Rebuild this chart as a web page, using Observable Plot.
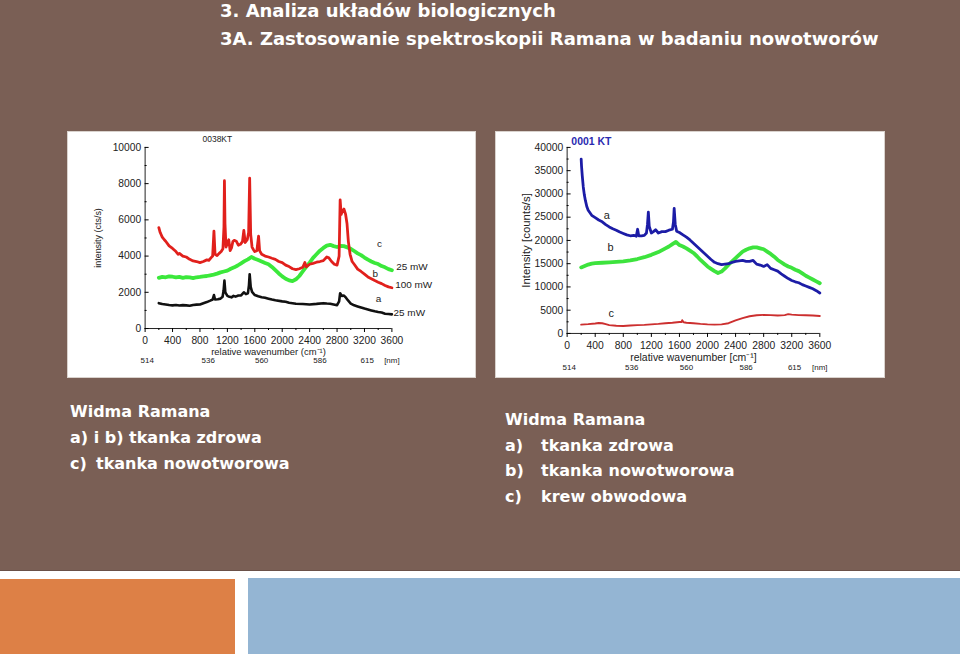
<!DOCTYPE html>
<html><head><meta charset="utf-8">
<script src="https://cdn.jsdelivr.net/npm/d3@7"></script>
<script src="https://cdn.jsdelivr.net/npm/@observablehq/plot@0.6"></script>
<style>
body{margin:0;background:#fff;}
#slide{position:relative;width:960px;height:656px;overflow:hidden;background:#fff;font-family:"DejaVu Sans",sans-serif;}
.abs{position:absolute;}
.t{position:absolute;color:#fff;font-weight:bold;white-space:nowrap;line-height:20px;}
.panel{position:absolute;background:#fff;box-sizing:border-box;border:1px solid #d9d2cd;}
.panel svg{position:absolute;left:-1px;top:-1px;}
.lab{display:inline-block;width:36px;}
</style></head>
<body>
<div id="slide">
  <div class="abs" style="left:0;top:0;width:960px;height:570px;background:#7a5f55;border-bottom:1px solid #6a5048"></div>
  <div class="t" style="left:220px;top:1px;font-size:18px;">3. Analiza układów biologicznych</div>
  <div class="t" style="left:220px;top:29px;font-size:18px;">3A. Zastosowanie spektroskopii Ramana w badaniu nowotworów</div>
  <div class="panel" id="p1" style="left:67px;top:131px;width:409px;height:247px;"></div>
  <div class="panel" id="p2" style="left:495px;top:131px;width:390px;height:247px;"></div>
  <div class="t" style="left:70px;top:402px;font-size:16px;">Widma Ramana</div>
  <div class="t" style="left:70px;top:428px;font-size:16px;">a) i b) tkanka zdrowa</div>
  <div class="t" style="left:70px;top:454px;font-size:16px;"><span style="display:inline-block;width:26px">c)</span>tkanka nowotworowa</div>
  <div class="t" style="left:505px;top:410px;font-size:16px;">Widma Ramana</div>
  <div class="t" style="left:505px;top:436px;font-size:16px;"><span class="lab">a)</span>tkanka zdrowa</div>
  <div class="t" style="left:505px;top:461px;font-size:16px;"><span class="lab">b)</span>tkanka nowotworowa</div>
  <div class="t" style="left:505px;top:487px;font-size:16px;"><span class="lab">c)</span>krew obwodowa</div>
  <div class="abs" style="left:0;top:579px;width:235px;height:75px;background:#dd8046;"></div>
  <div class="abs" style="left:248px;top:578px;width:712px;height:76px;background:#94b5d3;"></div>
</div>
<script>
// ---------- shared axis values ----------
const xTicks = [0, 400, 800, 1200, 1600, 2000, 2400, 2800, 3200, 3600];
const xMinor = [200, 600, 1000, 1400, 1800, 2200, 2600, 3000, 3400];
const nmPos = [30, 920, 1700, 2550, 3240, 3600];
const nmLabels = ["514", "536", "560", "586", "615", "[nm]"];

// ---------- Chart 1 (0038KT) ----------
const y1Ticks = [0, 2000, 4000, 6000, 8000, 10000];
const y1Minor = [1000, 3000, 5000, 7000, 9000];
const chart1_b = [[200,5570],[220,5300],[250,5050],[280,4900],[300,4820],[350,4560],[400,4420],[450,4250],[480,4100],[500,4150],[550,4000],[600,3950],[650,3820],[700,3730],[750,3700],[800,3640],[850,3700],[900,3790],[930,3760],[960,3900],[985,4000],[1004,5380],[1020,4100],[1050,4030],[1080,4150],[1110,4250],[1135,4400],[1150,5600],[1157,8160],[1165,5800],[1180,4500],[1200,4700],[1220,4900],[1240,4300],[1260,4450],[1280,4800],[1300,4870],[1330,4820],[1360,4600],[1390,4650],[1420,4800],[1440,5420],[1460,4750],[1490,4900],[1510,5300],[1525,8300],[1540,5200],[1560,4500],[1580,4350],[1600,4250],[1630,4300],[1655,5100],[1670,4300],[1700,4100],[1750,4000],[1800,3950],[1850,3880],[1900,3820],[1950,3700],[2000,3640],[2050,3500],[2100,3420],[2150,3300],[2200,3250],[2250,3300],[2300,3380],[2330,3650],[2350,3400],[2400,3550],[2450,3600],[2500,3660],[2550,3700],[2600,3750],[2650,3950],[2680,3900],[2720,3700],[2760,3550],[2800,3500],[2830,4000],[2845,7100],[2860,6300],[2880,6500],[2900,6600],[2925,6300],[2945,5800],[2965,4800],[2990,4100],[3020,3700],[3050,3550],[3100,3280],[3150,3150],[3200,3000],[3250,2850],[3300,2750],[3350,2650],[3400,2560],[3450,2480],[3500,2380],[3550,2300],[3600,2250]];
const chart1_c = [[200,2800],[250,2850],[300,2830],[350,2880],[400,2860],[450,2820],[500,2850],[550,2800],[600,2840],[650,2820],[700,2780],[750,2830],[800,2850],[850,2880],[900,2900],[950,2940],[1000,2980],[1050,3030],[1100,3100],[1150,3150],[1200,3200],[1250,3300],[1300,3380],[1350,3480],[1400,3600],[1450,3720],[1500,3820],[1550,3950],[1600,3850],[1650,3780],[1700,3700],[1750,3620],[1800,3550],[1850,3400],[1900,3220],[1950,3040],[2000,2880],[2050,2750],[2100,2660],[2150,2620],[2200,2720],[2250,2900],[2300,3150],[2350,3400],[2400,3640],[2450,3900],[2500,4100],[2550,4300],[2600,4450],[2650,4580],[2700,4620],[2750,4550],[2800,4500],[2850,4560],[2900,4550],[2950,4480],[3000,4400],[3050,4280],[3100,4150],[3150,4050],[3200,3920],[3250,3800],[3300,3700],[3350,3620],[3400,3560],[3450,3450],[3500,3380],[3550,3280],[3600,3220]];
const chart1_a = [[200,1400],[250,1350],[300,1330],[350,1300],[400,1280],[450,1300],[500,1270],[550,1290],[600,1280],[650,1260],[700,1300],[750,1320],[800,1330],[850,1400],[900,1460],[950,1540],[985,1600],[1004,1850],[1020,1600],[1060,1620],[1100,1650],[1130,1750],[1145,2100],[1157,2650],[1170,2000],[1200,1800],[1230,1750],[1260,1720],[1290,1800],[1320,1760],[1360,1820],[1400,1830],[1440,2000],[1470,1900],[1500,1950],[1515,2400],[1525,3000],[1540,2300],[1560,2020],[1600,1850],[1650,1780],[1700,1730],[1750,1700],[1800,1650],[1850,1600],[1900,1560],[2000,1500],[2050,1480],[2100,1420],[2150,1400],[2200,1370],[2300,1350],[2400,1330],[2500,1360],[2600,1400],[2650,1380],[2700,1370],[2750,1330],[2800,1290],[2830,1500],[2845,1950],[2870,1800],[2900,1820],[2930,1700],[2960,1550],[3000,1380],[3050,1280],[3100,1220],[3150,1160],[3200,1100],[3250,1050],[3300,1000],[3350,950],[3400,910],[3450,880],[3500,820],[3550,800],[3600,780]];
const chart1_letters = [
  {x: 3420, y: 4650, t: "c"},
  {x: 3357, y: 3010, t: "b"},
  {x: 3406, y: 1640, t: "a"}
];
const chart1_power = [
  {x: 3663, y: 3410, t: "25 mW"},
  {x: 3648, y: 2410, t: "100 mW"},
  {x: 3624, y: 860, t: "25 mW"}
];
const chart1_title = [{x: 838, y: 10450, t: "0038KT"}];

// ---------- Chart 2 (0001 KT) ----------
const y2Ticks = [0, 5000, 10000, 15000, 20000, 25000, 30000, 35000, 40000];
const y2Minor = [2500, 7500, 12500, 17500, 22500, 27500, 32500, 37500];
const chart2_a = [[200,37500],[205,36000],[215,34000],[230,31500],[245,29800],[260,28600],[280,27300],[300,26500],[350,25400],[400,24900],[450,24400],[500,24000],[550,23400],[600,22900],[650,22500],[700,22200],[750,21800],[800,21500],[850,21200],[900,21000],[950,21100],[985,20900],[1004,22400],[1020,21000],[1060,21000],[1100,21100],[1130,21600],[1145,23500],[1157,26100],[1170,23000],[1200,21600],[1230,21900],[1260,22300],[1300,21600],[1350,21900],[1400,21900],[1450,22200],[1500,22400],[1515,24000],[1525,26900],[1540,23500],[1560,22000],[1600,21700],[1650,21200],[1700,20700],[1750,20100],[1800,19400],[1850,18700],[1900,18000],[1950,17300],[2000,16600],[2050,15900],[2100,15300],[2150,15000],[2200,14800],[2250,14900],[2300,15000],[2350,15300],[2400,15500],[2450,15600],[2500,15700],[2550,15500],[2600,15500],[2650,15700],[2700,14900],[2750,14700],[2800,14400],[2850,14800],[2900,14000],[2950,13700],[3000,13400],[3050,12800],[3100,12300],[3150,11800],[3200,11400],[3250,11100],[3300,10900],[3350,10500],[3400,10200],[3450,9900],[3500,9600],[3550,9200],[3600,8700]];
const chart2_b = [[200,14200],[250,14500],[300,14800],[350,15000],[400,15100],[500,15200],[600,15300],[700,15400],[800,15500],[900,15700],[1000,16000],[1100,16400],[1200,16900],[1300,17500],[1400,18300],[1450,18700],[1500,19200],[1550,19700],[1600,19000],[1650,18700],[1700,18300],[1750,17800],[1800,17300],[1850,16600],[1900,15800],[1950,15100],[2000,14400],[2050,13900],[2100,13400],[2150,13000],[2200,13300],[2250,14000],[2300,14800],[2350,15500],[2400,16200],[2450,16900],[2500,17600],[2550,18000],[2600,18300],[2650,18500],[2700,18500],[2750,18300],[2800,18100],[2850,17600],[2900,17100],[2950,16500],[3000,15800],[3050,15300],[3100,14800],[3150,14400],[3200,14100],[3250,13700],[3300,13400],[3350,12900],[3400,12400],[3450,12000],[3500,11600],[3550,11200],[3600,10800]];
const chart2_c = [[200,1900],[300,2000],[400,2150],[450,2250],[500,2200],[550,2000],[600,1800],[700,1650],[800,1600],[900,1700],[1000,1800],[1100,1850],[1200,1950],[1300,2050],[1400,2200],[1500,2300],[1600,2450],[1630,2450],[1640,2850],[1660,2400],[1700,2300],[1800,2200],[1900,2050],[2000,1950],[2100,1900],[2200,1950],[2300,2200],[2400,2800],[2500,3300],[2600,3700],[2700,3900],[2800,4000],[2900,3950],[3000,3850],[3100,3950],[3150,4150],[3200,4050],[3300,3950],[3400,3900],[3500,3850],[3600,3750]];
const chart2_letters = [
  {x: 565, y: 25400, t: "a"},
  {x: 620, y: 18500, t: "b"},
  {x: 630, y: 4300, t: "c"}
];
const chart2_title = [{x: 60, y: 41300, t: "0001 KT"}];

function axes(yTicks, yMinor, o) {
  return [
    Plot.ruleY([0], {stroke: "#222", strokeWidth: 1}),
    Plot.ruleX([0], {stroke: "#222", strokeWidth: 1}),
    Plot.axisX({ticks: xTicks, tickSize: 4, tickPadding: 4, tickFormat: d => String(d), label: null, fontSize: o.tickSize, fill: "#222"}),
    Plot.axisX({ticks: xMinor, tickSize: 2, tickFormat: () => "", label: null}),
    Plot.axisY({ticks: yTicks, tickSize: -4, tickPadding: 8, tickFormat: d => String(d), label: null, fontSize: o.tickSize, fill: "#222"}),
    Plot.axisY({ticks: yMinor, tickSize: -2, tickPadding: 4, tickFormat: () => "", label: null}),
    Plot.text(nmPos, {x: d => d, text: (d, i) => nmLabels[i], frameAnchor: "bottom", lineAnchor: "middle", dy: o.nmDy, fontSize: 8, fill: "#222"}),
    Plot.text([o.xLabel], {frameAnchor: "bottom", lineAnchor: "middle", textAnchor: "middle", dy: o.xlDy, fontSize: o.xlSize, fill: "#222"}),
    Plot.text([o.yLabel], {frameAnchor: "left", lineAnchor: "middle", textAnchor: "middle", dx: o.ylDx, rotate: -90, fontSize: o.ylSize, fill: "#222"})
  ];
}

const line = (data, color, w) => Plot.line(data, {x: d => d[0], y: d => d[1], stroke: color, strokeWidth: w, strokeLinejoin: "round"});

const c1 = Plot.plot({
  width: 409, height: 247,
  marginLeft: 78, marginRight: 83, marginTop: 16, marginBottom: 49,
  style: {fontFamily: "'Liberation Sans', Arial, sans-serif", background: "transparent", overflow: "visible"},
  x: {domain: [0, 3600]},
  y: {domain: [0, 10000]},
  marks: [
    ...axes(y1Ticks, y1Minor, {tickSize: 10.3, nmDy: 32, xlDy: 24, xlSize: 9.5, xLabel: "relative wavenumber (cm⁻¹)", yLabel: "intensity (cts/s)", ylDx: -47, ylSize: 9}),
    line(chart1_c, "#3be83b", 3.8),
    line(chart1_b, "#e1201c", 2.8),
    line(chart1_a, "#111111", 2.6),
    Plot.text(chart1_letters, {x: "x", y: "y", text: "t", fontSize: 10, fill: "#222"}),
    Plot.text(chart1_power, {x: "x", y: "y", text: "t", textAnchor: "start", fontSize: 10, fill: "#222"}),
    Plot.text(chart1_title, {x: "x", y: "y", text: "t", textAnchor: "start", fontSize: 8.5, fill: "#222"})
  ]
});
document.getElementById("p1").appendChild(c1);

const c2 = Plot.plot({
  width: 390, height: 247,
  marginLeft: 72, marginRight: 64, marginTop: 16, marginBottom: 44,
  style: {fontFamily: "'Liberation Sans', Arial, sans-serif", background: "transparent", overflow: "visible"},
  x: {domain: [0, 3600]},
  y: {domain: [0, 40000]},
  marks: [
    ...axes(y2Ticks, y2Minor, {tickSize: 10.4, nmDy: 34, xlDy: 24, xlSize: 10.5, xLabel: "relative wavenumber [cm⁻¹]", yLabel: "Intensity [counts/s]", ylDx: -41, ylSize: 11.5}),
    line(chart2_c, "#cc2f2f", 1.9),
    line(chart2_b, "#3de33d", 3.8),
    line(chart2_a, "#1c1ca6", 2.8),
    Plot.text(chart2_letters, {x: "x", y: "y", text: "t", fontSize: 11, fill: "#222"}),
    Plot.text(chart2_title, {x: "x", y: "y", text: "t", textAnchor: "start", fontSize: 10.5, fontWeight: "bold", fill: "#2a2ab0"})
  ]
});
document.getElementById("p2").appendChild(c2);
</script>
</body></html>
